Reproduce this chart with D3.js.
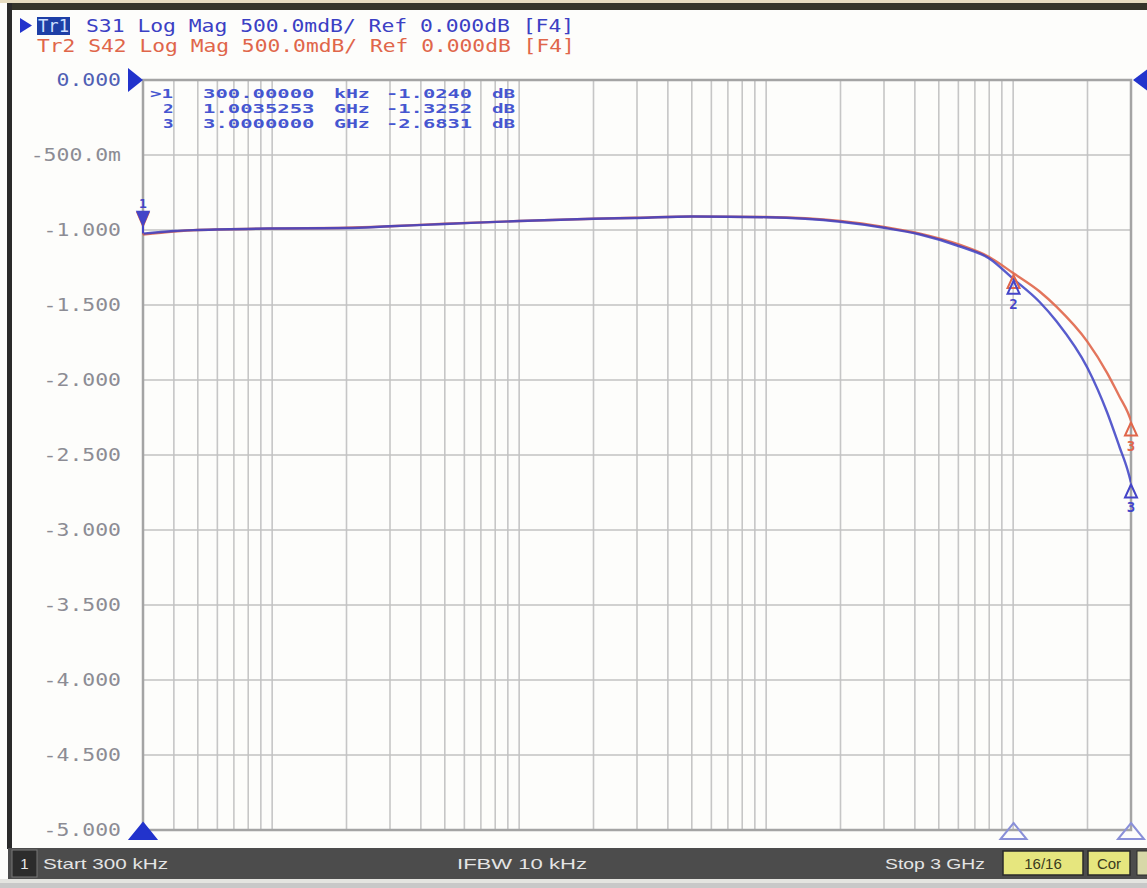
<!DOCTYPE html>
<html><head><meta charset="utf-8">
<script src="https://cdn.jsdelivr.net/npm/d3@7"></script>
<style>body{margin:0;background:#fff;} svg{display:block}</style>
</head><body><svg id="c" width="1147" height="888"></svg>
<script>
// ---- data ----
const freqs = [3e5, 4e5, 5e5, 1e6, 2e6, 3e6, 5e6, 1e7, 2e7, 3e7, 5e7, 1e8, 2e8, 3e8, 4.2e8, 6.1e8, 8e8, 1e9, 1.28e9, 1.5e9, 2e9, 2.4e9, 2.7e9, 2.9e9, 3e9];
const s31 = [-1.024, -1.007, -1.0, -0.99, -0.987, -0.975, -0.96, -0.94, -0.925, -0.92, -0.91, -0.915, -0.945, -0.985, -1.03, -1.11, -1.19, -1.3252, -1.48, -1.61, -1.92, -2.215, -2.45, -2.595, -2.6831];
const s42 = [-1.03, -1.01, -1.0, -0.99, -0.985, -0.975, -0.958, -0.94, -0.925, -0.918, -0.91, -0.913, -0.94, -0.98, -1.025, -1.10, -1.18, -1.287, -1.41, -1.513, -1.746, -1.952, -2.113, -2.21, -2.27];
const yTicks = [0, -0.5, -1, -1.5, -2, -2.5, -3, -3.5, -4, -4.5, -5];
const yTickLabels = ["0.000", "-500.0m", "-1.000", "-1.500", "-2.000", "-2.500", "-3.000", "-3.500", "-4.000", "-4.500", "-5.000"];
const headerTr1 = "S31 Log Mag 500.0mdB/ Ref 0.000dB [F4]";
const headerTr2 = "Tr2 S42 Log Mag 500.0mdB/ Ref 0.000dB [F4]";
const markerRows = [
  [">1", "300.00000", "kHz", "-1.0240", "dB"],
  ["2", "1.0035253", "GHz", "-1.3252", "dB"],
  ["3", "3.0000000", "GHz", "-2.6831", "dB"]
];
const markerNums = [1, 2, 3];
const markerFreqs = [3e5, 1.0035253e9, 3e9];
const markerS31 = [-1.024, -1.3252, -2.6831];
const markerS42 = [-1.03, -1.287, -2.27];
const footerTexts = ["Start 300 kHz", "IFBW 10 kHz", "Stop 3 GHz"];
const footerBoxes = ["16/16", "Cor"];

// ---- drawing ----
const svg = d3.select("#c");
const BLUE = "#3b40c4", RED = "#e0664a";
const L = 143, R = 1131, T = 80, B = 830;
const x = d3.scaleLog().domain([3e5, 3e9]).range([L, R]);
const y = d3.scaleLinear().domain([-5, 0]).range([B, T]);
const MONO = "'DejaVu Sans Mono', monospace";

// frame
svg.append("rect").attr("x", 0).attr("y", 0).attr("width", 1147).attr("height", 888).attr("fill", "#fdfdfb");
svg.append("rect").attr("x", 0).attr("y", 0).attr("width", 1147).attr("height", 3).attr("fill", "#e6dcc0");
svg.append("rect").attr("x", 7).attr("y", 3).attr("width", 1140).attr("height", 7).attr("fill", "#35352a");
svg.append("rect").attr("x", 7).attr("y", 3).attr("width", 5).attr("height", 846).attr("fill", "#2a2a2a");

// grid
const vgrid = [];
for (let e = 5; e <= 9; e++) for (let m = 1; m <= 9; m++) {
  const f = m * Math.pow(10, e);
  if (f > 3e5 && f < 3e9) vgrid.push(f);
}
svg.append("g").selectAll("line").data(vgrid).join("line")
  .attr("x1", d => x(d)).attr("x2", d => x(d)).attr("y1", T).attr("y2", B)
  .attr("stroke", "#c6c6c6").attr("stroke-width", 1.6);
svg.append("g").selectAll("line").data(yTicks).join("line")
  .attr("x1", L).attr("x2", R).attr("y1", d => y(d)).attr("y2", d => y(d))
  .attr("stroke", "#c2c2c2").attr("stroke-width", 1.6);
svg.append("rect").attr("x", L).attr("y", T).attr("width", R - L).attr("height", B - T)
  .attr("fill", "none").attr("stroke", "#a4a4a4").attr("stroke-width", 2.5);

// y labels
svg.append("g").selectAll("text").data(yTicks).join("text")
  .attr("x", 121).attr("y", d => y(d) + 6).attr("text-anchor", "end")
  .attr("font-family", MONO).attr("font-size", 18)
  .attr("textLength", (d, i) => yTickLabels[i].length * 12.9).attr("lengthAdjust", "spacingAndGlyphs")
  .attr("fill", (d, i) => i === 0 ? "#5060b4" : "#8c8c94")
  .text((d, i) => yTickLabels[i]);

// reference triangles
svg.append("path").attr("d", `M${L - 15},${T - 12} L${L},${T} L${L - 15},${T + 12} Z`).attr("fill", "#2233cc");
svg.append("path").attr("d", `M${R + 2},${T} L${R + 18},${T - 12} L${R + 18},${T + 12} Z`).attr("fill", "#2233cc");

// header
svg.append("path").attr("d", "M20,18 L32,25.5 L20,33 Z").attr("fill", "#2233cc");
svg.append("rect").attr("x", 37).attr("y", 17).attr("width", 33).attr("height", 18).attr("fill", "#1e3fa6");
svg.append("text").attr("x", 38).attr("y", 32).attr("font-family", MONO).attr("font-size", 18)
  .attr("fill", "#cfe0ff").attr("textLength", 31).attr("lengthAdjust", "spacingAndGlyphs").text("Tr1");
svg.append("text").attr("x", 86).attr("y", 32).attr("font-family", MONO).attr("font-size", 18)
  .attr("fill", BLUE).attr("textLength", headerTr1.length * 12.95 - 4).attr("lengthAdjust", "spacingAndGlyphs").text(headerTr1);
svg.append("text").attr("x", 37).attr("y", 52).attr("font-family", MONO).attr("font-size", 18)
  .attr("fill", RED).attr("textLength", headerTr2.length * 12.9 - 4).attr("lengthAdjust", "spacingAndGlyphs").text(headerTr2);

// marker table
const colX = [150, 203, 334, 386, 492];
markerRows.forEach((row, r) => {
  row.forEach((s, c) => {
    const xx = c === 0 ? (s.length === 1 ? 163 : 150) : colX[c];
    svg.append("text").attr("x", xx).attr("y", 98 + r * 15)
      .attr("font-family", MONO).attr("font-size", 13).attr("fill", "#4656d0").attr("font-weight", 600)
      .attr("textLength", s.length * 12.6 - 2).attr("lengthAdjust", "spacingAndGlyphs").text(s);
  });
});

// traces
svg.append("clipPath").attr("id", "pc").append("rect").attr("x", L).attr("y", T).attr("width", R - L).attr("height", B - T);
const line = d3.line().x(d => x(d[0])).y(d => y(d[1])).curve(d3.curveMonotoneX);
const gTr = svg.append("g").attr("clip-path", "url(#pc)");
gTr.append("path").datum(freqs.map((f, i) => [f, s42[i]])).attr("d", line)
  .attr("fill", "none").attr("stroke", RED).attr("stroke-width", 2.4).attr("opacity", 0.9);
gTr.append("path").datum(freqs.map((f, i) => [f, s31[i]])).attr("d", line)
  .attr("fill", "none").attr("stroke", BLUE).attr("stroke-width", 2.4).attr("opacity", 0.85);

// marker glyphs on traces
function glyph(f, v, n, color, above, showLabel) {
  const cx = x(f), cy = y(v);
  const g = svg.append("g").attr("fill", color).attr("stroke", color);
  if (above) {
    g.append("path").attr("d", `M${cx - 6},${cy - 22} L${cx + 6},${cy - 22} L${cx},${cy - 8} Z`).attr("stroke-width", 1.5);
    g.append("line").attr("x1", cx).attr("x2", cx).attr("y1", cy - 8).attr("y2", cy).attr("stroke-width", 2);
    if (showLabel) g.append("text").attr("x", cx).attr("y", cy - 26).attr("text-anchor", "middle").attr("stroke", "none")
      .attr("font-family", MONO).attr("font-size", 13).attr("font-weight", "bold").text(n);
  } else {
    g.append("path").attr("d", `M${cx},${cy + 2} L${cx + 6},${cy + 15} L${cx - 6},${cy + 15} Z`).attr("fill", "none").attr("stroke-width", 2);
    if (showLabel) g.append("text").attr("x", cx).attr("y", cy + 30).attr("text-anchor", "middle").attr("stroke", "none")
      .attr("font-family", MONO).attr("font-size", 14).attr("font-weight", "bold").text(n);
  }
}
markerNums.forEach((n, i) => glyph(markerFreqs[i], markerS42[i], n, RED, i === 0, i === 2));
markerNums.forEach((n, i) => glyph(markerFreqs[i], markerS31[i], n, "#4444c8", i === 0, true));

// stimulus triangles at the bottom
markerFreqs.forEach((f, i) => {
  const cx = x(f);
  svg.append("path").attr("d", `M${cx},${B - 7} L${cx + 13},${B + 9} L${cx - 13},${B + 9} Z`)
    .attr("fill", i === 0 ? "#2233cc" : "none").attr("stroke", i === 0 ? "#2233cc" : "#8a90d8").attr("stroke-width", 2);
});

// footer bar
svg.append("rect").attr("x", 8).attr("y", 848).attr("width", 1139).attr("height", 31).attr("fill", "#4c4c4c");
svg.append("rect").attr("x", 0).attr("y", 879).attr("width", 1147).attr("height", 4).attr("fill", "#e4e4e0");
svg.append("rect").attr("x", 0).attr("y", 883).attr("width", 1147).attr("height", 5).attr("fill", "#c8c8c8");
svg.append("rect").attr("x", 12).attr("y", 850).attr("width", 25).attr("height", 27).attr("fill", "#2c2c2c").attr("stroke", "#777").attr("stroke-width", 1);
svg.append("text").attr("x", 24.5).attr("y", 869).attr("text-anchor", "middle").attr("fill", "#e8e8e8")
  .attr("font-family", "'Liberation Sans', Arial").attr("font-size", 15).text("1");
const fx = [[43, 125], [457, 130], [885, 100]];
footerTexts.forEach((t, i) => {
  svg.append("text").attr("x", fx[i][0]).attr("y", 869).attr("fill", "#e4e4e4")
    .attr("font-family", "'Liberation Sans', Arial").attr("font-size", 15)
    .attr("textLength", fx[i][1]).attr("lengthAdjust", "spacingAndGlyphs").text(t);
});
const bx = [[1003, 80], [1088, 42]];
footerBoxes.forEach((t, i) => {
  svg.append("rect").attr("x", bx[i][0]).attr("y", 851).attr("width", bx[i][1]).attr("height", 24)
    .attr("fill", "#e6e67e").attr("stroke", "#2a2a2a").attr("stroke-width", 1.5);
  svg.append("text").attr("x", bx[i][0] + bx[i][1] / 2).attr("y", 869).attr("text-anchor", "middle")
    .attr("fill", "#3a3a20").attr("font-family", "'Liberation Sans', Arial").attr("font-size", 15).text(t);
});
svg.append("rect").attr("x", 1137).attr("y", 851).attr("width", 14).attr("height", 24).attr("fill", "#d8d8a8").attr("stroke", "#2a2a2a");
</script></body></html>
